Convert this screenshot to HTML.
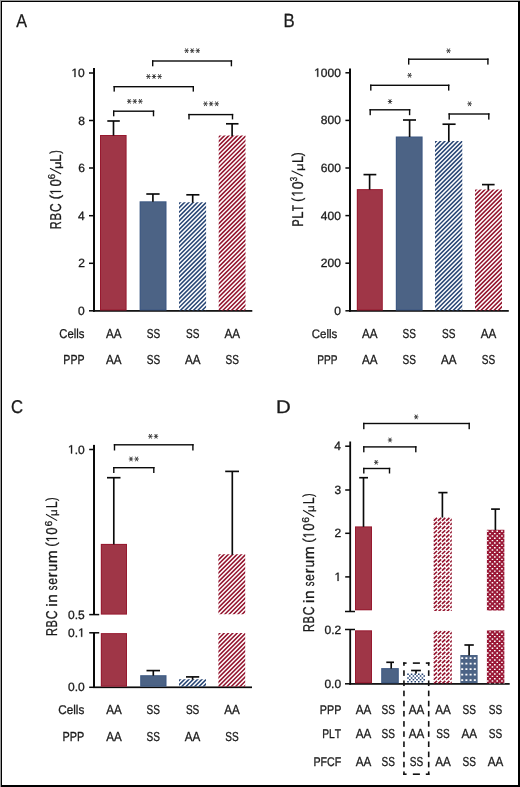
<!DOCTYPE html><html><head><meta charset="utf-8"><style>html,body{margin:0;padding:0;background:#fff;overflow:hidden}svg{display:block}text{font-kerning:none;text-rendering:geometricPrecision}.r{stroke:#1a1a1a;stroke-width:0.3px}.h{stroke:#1a1a1a;stroke-width:0.3px}</style></head><body>
<svg style="will-change:transform" width="520" height="787" viewBox="0 0 520 787" font-family="&quot;Liberation Sans&quot;, sans-serif">
<defs>
</defs>
<rect x="0" y="0" width="520" height="787" fill="#9a9a9a"/>
<rect x="1" y="1" width="519" height="786" fill="#000"/>
<rect x="2" y="2" width="516" height="783" fill="#fff"/>
<text class="h" transform="translate(16.17,26.9) scale(0.8742,1)" font-size="18.46" fill="#1a1a1a">A</text>
<text class="h" transform="translate(283.43,26.8) scale(0.8716,1)" font-size="19.19" fill="#1a1a1a">B</text>
<text class="h" transform="translate(11.05,412.5) scale(0.9057,1)" font-size="18.48" fill="#1a1a1a">C</text>
<text class="h" transform="translate(276.02,412.5) scale(1.1244,1)" font-size="18.17" fill="#1a1a1a">D</text>
<rect x="93" y="68" width="2" height="243.7" fill="#0a0a0a"/>
<rect x="93" y="310.05" width="159.3" height="1.7" fill="#0a0a0a"/>
<rect x="89" y="72.25" width="5" height="1.5" fill="#0a0a0a"/>
<rect x="89" y="119.75" width="5" height="1.5" fill="#0a0a0a"/>
<rect x="89" y="167.25" width="5" height="1.5" fill="#0a0a0a"/>
<rect x="89" y="214.95" width="5" height="1.5" fill="#0a0a0a"/>
<rect x="89" y="262.55" width="5" height="1.5" fill="#0a0a0a"/>
<rect x="89" y="310.05" width="5" height="1.5" fill="#0a0a0a"/>
<path class="r" d="M515,0L696,0L696,1409L530,1409L197,1180L197,1010L515,1237Z" transform="translate(71.42,77) scale(0.00586,-0.00586)" fill="#1a1a1a" style="stroke-width:51.2px;stroke:#1a1a1a"/>
<text class="h" x="78.09" y="77" font-size="12" fill="#1a1a1a">0</text>
<text class="h" x="78.15" y="124.5" font-size="12" fill="#1a1a1a">8</text>
<text class="h" x="78.15" y="172" font-size="12" fill="#1a1a1a">6</text>
<text class="h" x="77.98" y="219.7" font-size="12" fill="#1a1a1a">4</text>
<text class="h" x="78.23" y="267.3" font-size="12" fill="#1a1a1a">2</text>
<text class="h" x="78.09" y="314.8" font-size="12" fill="#1a1a1a">0</text>
<rect x="100" y="135" width="26.6" height="175.5" fill="#97192f"/>
<rect x="101" y="136" width="24.6" height="173.5" fill="#9f3647"/>
<rect x="139.6" y="201.3" width="26.9" height="109.2" fill="#3b5782"/>
<rect x="140.6" y="202.3" width="24.9" height="107.2" fill="#4c6385"/>
<clipPath id="c1"><rect x="179" y="202.2" width="27.1" height="108.3"/></clipPath>
<g clip-path="url(#c1)"><path d="M62.44,311.5L172.74,201.2M66.77,311.5L177.07,201.2M71.1,311.5L181.4,201.2M75.43,311.5L185.73,201.2M79.76,311.5L190.06,201.2M84.09,311.5L194.39,201.2M88.42,311.5L198.72,201.2M92.75,311.5L203.05,201.2M97.08,311.5L207.38,201.2M101.41,311.5L211.71,201.2M105.74,311.5L216.04,201.2M110.07,311.5L220.37,201.2M114.4,311.5L224.7,201.2M118.73,311.5L229.03,201.2M123.06,311.5L233.36,201.2M127.39,311.5L237.69,201.2M131.72,311.5L242.02,201.2M136.05,311.5L246.35,201.2M140.38,311.5L250.68,201.2M144.71,311.5L255.01,201.2M149.04,311.5L259.34,201.2M153.37,311.5L263.67,201.2M157.7,311.5L268,201.2M162.03,311.5L272.33,201.2M166.36,311.5L276.66,201.2M170.69,311.5L280.99,201.2M175.02,311.5L285.32,201.2M179.35,311.5L289.65,201.2M183.68,311.5L293.98,201.2M188.01,311.5L298.31,201.2M192.34,311.5L302.64,201.2M196.67,311.5L306.97,201.2M201,311.5L311.3,201.2M205.33,311.5L315.63,201.2M209.66,311.5L319.96,201.2" stroke="#284675" stroke-width="1.55" fill="none"/></g>
<clipPath id="c2"><rect x="218.7" y="135.6" width="26.8" height="174.9"/></clipPath>
<g clip-path="url(#c2)"><path d="M35.54,311.5L212.44,134.6M39.87,311.5L216.77,134.6M44.2,311.5L221.1,134.6M48.53,311.5L225.43,134.6M52.86,311.5L229.76,134.6M57.19,311.5L234.09,134.6M61.52,311.5L238.42,134.6M65.85,311.5L242.75,134.6M70.18,311.5L247.08,134.6M74.51,311.5L251.41,134.6M78.84,311.5L255.74,134.6M83.17,311.5L260.07,134.6M87.5,311.5L264.4,134.6M91.83,311.5L268.73,134.6M96.16,311.5L273.06,134.6M100.49,311.5L277.39,134.6M104.82,311.5L281.72,134.6M109.15,311.5L286.05,134.6M113.48,311.5L290.38,134.6M117.81,311.5L294.71,134.6M122.14,311.5L299.04,134.6M126.47,311.5L303.37,134.6M130.8,311.5L307.7,134.6M135.13,311.5L312.03,134.6M139.46,311.5L316.36,134.6M143.79,311.5L320.69,134.6M148.12,311.5L325.02,134.6M152.45,311.5L329.35,134.6M156.78,311.5L333.68,134.6M161.11,311.5L338.01,134.6M165.44,311.5L342.34,134.6M169.77,311.5L346.67,134.6M174.1,311.5L351,134.6M178.43,311.5L355.33,134.6M182.76,311.5L359.66,134.6M187.09,311.5L363.99,134.6M191.42,311.5L368.32,134.6M195.75,311.5L372.65,134.6M200.08,311.5L376.98,134.6M204.41,311.5L381.31,134.6M208.74,311.5L385.64,134.6M213.07,311.5L389.97,134.6M217.4,311.5L394.3,134.6M221.73,311.5L398.63,134.6M226.06,311.5L402.96,134.6M230.39,311.5L407.29,134.6M234.72,311.5L411.62,134.6M239.05,311.5L415.95,134.6M243.38,311.5L420.28,134.6M247.71,311.5L424.61,134.6M252.04,311.5L428.94,134.6" stroke="#93132d" stroke-width="1.55" fill="none"/></g>
<rect x="112.67" y="121" width="1.65" height="14.5" fill="#0a0a0a"/>
<rect x="107.3" y="120.17" width="12.5" height="1.65" fill="#0a0a0a"/>
<rect x="152.08" y="194" width="1.65" height="7.8" fill="#0a0a0a"/>
<rect x="146.3" y="193.18" width="13.3" height="1.65" fill="#0a0a0a"/>
<rect x="191.88" y="194.8" width="1.65" height="7.9" fill="#0a0a0a"/>
<rect x="186.3" y="193.98" width="13.1" height="1.65" fill="#0a0a0a"/>
<rect x="231.28" y="123.8" width="1.65" height="12.3" fill="#0a0a0a"/>
<rect x="226" y="122.97" width="12.5" height="1.65" fill="#0a0a0a"/>
<rect x="113" y="110.5" width="41.2" height="1.4" fill="#0a0a0a"/>
<rect x="113" y="110.5" width="1.4" height="5.8" fill="#0a0a0a"/>
<rect x="152.8" y="110.5" width="1.4" height="5.8" fill="#0a0a0a"/>
<rect x="188.3" y="113.9" width="44.9" height="1.4" fill="#0a0a0a"/>
<rect x="188.3" y="113.9" width="1.4" height="5.5" fill="#0a0a0a"/>
<rect x="231.8" y="113.9" width="1.4" height="5.5" fill="#0a0a0a"/>
<rect x="113.5" y="86" width="80.5" height="1.4" fill="#0a0a0a"/>
<rect x="113.5" y="86" width="1.4" height="5.6" fill="#0a0a0a"/>
<rect x="192.6" y="86" width="1.4" height="5.6" fill="#0a0a0a"/>
<rect x="152" y="60.3" width="80.1" height="1.4" fill="#0a0a0a"/>
<rect x="152" y="60.3" width="1.4" height="6" fill="#0a0a0a"/>
<rect x="230.7" y="60.3" width="1.4" height="6" fill="#0a0a0a"/>
<path d="M127.00,101.30L131.40,101.30M127.98,99.00L130.42,103.60M130.42,99.00L127.98,103.60" stroke="#333" stroke-width="0.9" fill="none"/>
<path d="M132.60,101.30L137.00,101.30M133.58,99.00L136.02,103.60M136.02,99.00L133.58,103.60" stroke="#333" stroke-width="0.9" fill="none"/>
<path d="M138.20,101.30L142.60,101.30M139.18,99.00L141.62,103.60M141.62,99.00L139.18,103.60" stroke="#333" stroke-width="0.9" fill="none"/>
<path d="M203.30,103.80L207.70,103.80M204.28,101.50L206.72,106.10M206.72,101.50L204.28,106.10" stroke="#333" stroke-width="0.9" fill="none"/>
<path d="M208.90,103.80L213.30,103.80M209.88,101.50L212.32,106.10M212.32,101.50L209.88,106.10" stroke="#333" stroke-width="0.9" fill="none"/>
<path d="M214.50,103.80L218.90,103.80M215.48,101.50L217.92,106.10M217.92,101.50L215.48,106.10" stroke="#333" stroke-width="0.9" fill="none"/>
<path d="M146.20,76.50L150.60,76.50M147.18,74.20L149.62,78.80M149.62,74.20L147.18,78.80" stroke="#333" stroke-width="0.9" fill="none"/>
<path d="M151.80,76.50L156.20,76.50M152.78,74.20L155.22,78.80M155.22,74.20L152.78,78.80" stroke="#333" stroke-width="0.9" fill="none"/>
<path d="M157.40,76.50L161.80,76.50M158.38,74.20L160.82,78.80M160.82,74.20L158.38,78.80" stroke="#333" stroke-width="0.9" fill="none"/>
<path d="M184.40,50.70L188.80,50.70M185.38,48.40L187.82,53.00M187.82,48.40L185.38,53.00" stroke="#333" stroke-width="0.9" fill="none"/>
<path d="M190.00,50.70L194.40,50.70M190.98,48.40L193.42,53.00M193.42,48.40L190.98,53.00" stroke="#333" stroke-width="0.9" fill="none"/>
<path d="M195.60,50.70L200.00,50.70M196.58,48.40L199.02,53.00M199.02,48.40L196.58,53.00" stroke="#333" stroke-width="0.9" fill="none"/>
<text class="r" transform="translate(61,228.3) rotate(-90) scale(0.6973,1) translate(-1.29,0)" font-size="15.7" fill="#1a1a1a">R</text>
<text class="r" transform="translate(61,219.5) rotate(-90) scale(0.7300,1) translate(-1.29,0)" font-size="15.7" fill="#1a1a1a">B</text>
<text class="r" transform="translate(61,211.3) rotate(-90) scale(0.7644,1) translate(-0.8,0)" font-size="15.7" fill="#1a1a1a">C</text>
<text class="r" transform="translate(59.9,198.7) rotate(-90) scale(0.9953,1) translate(-0.89,0)" font-size="14.4" fill="#1a1a1a">(</text>
<path d="M515,0L696,0L696,1409L530,1409L197,1180L197,1010L515,1237Z" transform="translate(61,194.88) rotate(-90) scale(0.00575,-0.00767)" fill="#1a1a1a" style="stroke-width:39.1px;stroke:#1a1a1a"/>
<text class="r" transform="translate(61,186) rotate(-90) scale(0.8394,1) translate(-0.61,0)" font-size="15.7" fill="#1a1a1a">0</text>
<text class="r" transform="translate(55.1,178.7) rotate(-90) scale(0.9536,1) translate(-0.51,0)" font-size="10" fill="#1a1a1a">6</text>
<path d="M61.1,174L50,168.3" stroke="#1a1a1a" stroke-width="1.05" fill="none"/>
<text class="r" transform="translate(61,168) rotate(-90) scale(1.2563,1) translate(-0.71,0)" font-size="10.6" fill="#1a1a1a">μ</text>
<text class="r" transform="translate(61,160.6) rotate(-90) scale(0.8234,1) translate(-1.29,0)" font-size="15.7" fill="#1a1a1a">L</text>
<text class="r" transform="translate(59.9,153.6) rotate(-90) scale(0.7334,1) translate(-0.08,0)" font-size="14.4" fill="#1a1a1a">)</text>
<text class="h" transform="translate(105.93,337.6) scale(0.8900,1)" font-size="13.08" fill="#1a1a1a">AA</text>
<text class="h" transform="translate(146.68,337.6) scale(0.7700,1)" font-size="13.08" fill="#1a1a1a">SS</text>
<text class="h" transform="translate(185.98,337.6) scale(0.7700,1)" font-size="13.08" fill="#1a1a1a">SS</text>
<text class="h" transform="translate(224.53,337.6) scale(0.8900,1)" font-size="13.08" fill="#1a1a1a">AA</text>
<text class="h" transform="translate(105.93,364.4) scale(0.8900,1)" font-size="13.08" fill="#1a1a1a">AA</text>
<text class="h" transform="translate(146.68,364.4) scale(0.7700,1)" font-size="13.08" fill="#1a1a1a">SS</text>
<text class="h" transform="translate(184.93,364.4) scale(0.8900,1)" font-size="13.08" fill="#1a1a1a">AA</text>
<text class="h" transform="translate(225.58,364.4) scale(0.7700,1)" font-size="13.08" fill="#1a1a1a">SS</text>
<text class="h" transform="translate(59.22,337.6) scale(0.8887,1)" font-size="12.75" fill="#1a1a1a">Cells</text>
<text class="h" transform="translate(63.33,364.4) scale(0.8111,1)" font-size="13.08" fill="#1a1a1a">PPP</text>
<rect x="349" y="68.5" width="2" height="243.2" fill="#0a0a0a"/>
<rect x="349" y="310.05" width="159.8" height="1.7" fill="#0a0a0a"/>
<rect x="345.4" y="72.05" width="4.6" height="1.5" fill="#0a0a0a"/>
<rect x="345.4" y="119.65" width="4.6" height="1.5" fill="#0a0a0a"/>
<rect x="345.4" y="167.25" width="4.6" height="1.5" fill="#0a0a0a"/>
<rect x="345.4" y="214.85" width="4.6" height="1.5" fill="#0a0a0a"/>
<rect x="345.4" y="262.45" width="4.6" height="1.5" fill="#0a0a0a"/>
<rect x="345.4" y="310.05" width="4.6" height="1.5" fill="#0a0a0a"/>
<path class="r" d="M515,0L696,0L696,1409L530,1409L197,1180L197,1010L515,1237Z" transform="translate(314.17,76.8) scale(0.00586,-0.00586)" fill="#1a1a1a" style="stroke-width:51.2px;stroke:#1a1a1a"/>
<text class="h" x="320.85" y="76.8" font-size="12" fill="#1a1a1a">0</text>
<text class="h" x="327.52" y="76.8" font-size="12" fill="#1a1a1a">0</text>
<text class="h" x="334.19" y="76.8" font-size="12" fill="#1a1a1a">0</text>
<text class="h" x="320.85" y="124.4" font-size="12" fill="#1a1a1a">8</text>
<text class="h" x="327.52" y="124.4" font-size="12" fill="#1a1a1a">0</text>
<text class="h" x="334.19" y="124.4" font-size="12" fill="#1a1a1a">0</text>
<text class="h" x="320.85" y="172" font-size="12" fill="#1a1a1a">6</text>
<text class="h" x="327.52" y="172" font-size="12" fill="#1a1a1a">0</text>
<text class="h" x="334.19" y="172" font-size="12" fill="#1a1a1a">0</text>
<text class="h" x="320.85" y="219.6" font-size="12" fill="#1a1a1a">4</text>
<text class="h" x="327.52" y="219.6" font-size="12" fill="#1a1a1a">0</text>
<text class="h" x="334.19" y="219.6" font-size="12" fill="#1a1a1a">0</text>
<text class="h" x="320.85" y="267.2" font-size="12" fill="#1a1a1a">2</text>
<text class="h" x="327.52" y="267.2" font-size="12" fill="#1a1a1a">0</text>
<text class="h" x="334.19" y="267.2" font-size="12" fill="#1a1a1a">0</text>
<text class="h" x="334.19" y="314.8" font-size="12" fill="#1a1a1a">0</text>
<rect x="356.8" y="189.1" width="26" height="121.4" fill="#97192f"/>
<rect x="357.8" y="190.1" width="24" height="119.4" fill="#9f3647"/>
<rect x="395.8" y="136.5" width="26.8" height="174" fill="#3b5782"/>
<rect x="396.8" y="137.5" width="24.8" height="172" fill="#4c6385"/>
<clipPath id="c3"><rect x="435" y="141" width="27.3" height="169.5"/></clipPath>
<g clip-path="url(#c3)"><path d="M257.24,311.5L428.74,140M261.57,311.5L433.07,140M265.9,311.5L437.4,140M270.23,311.5L441.73,140M274.56,311.5L446.06,140M278.89,311.5L450.39,140M283.22,311.5L454.72,140M287.55,311.5L459.05,140M291.88,311.5L463.38,140M296.21,311.5L467.71,140M300.54,311.5L472.04,140M304.87,311.5L476.37,140M309.2,311.5L480.7,140M313.53,311.5L485.03,140M317.86,311.5L489.36,140M322.19,311.5L493.69,140M326.52,311.5L498.02,140M330.85,311.5L502.35,140M335.18,311.5L506.68,140M339.51,311.5L511.01,140M343.84,311.5L515.34,140M348.17,311.5L519.67,140M352.5,311.5L524,140M356.83,311.5L528.33,140M361.16,311.5L532.66,140M365.49,311.5L536.99,140M369.82,311.5L541.32,140M374.15,311.5L545.65,140M378.48,311.5L549.98,140M382.81,311.5L554.31,140M387.14,311.5L558.64,140M391.47,311.5L562.97,140M395.8,311.5L567.3,140M400.13,311.5L571.63,140M404.46,311.5L575.96,140M408.79,311.5L580.29,140M413.12,311.5L584.62,140M417.45,311.5L588.95,140M421.78,311.5L593.28,140M426.11,311.5L597.61,140M430.44,311.5L601.94,140M434.77,311.5L606.27,140M439.1,311.5L610.6,140M443.43,311.5L614.93,140M447.76,311.5L619.26,140M452.09,311.5L623.59,140M456.42,311.5L627.92,140M460.75,311.5L632.25,140M465.08,311.5L636.58,140M469.41,311.5L640.91,140" stroke="#284675" stroke-width="1.55" fill="none"/></g>
<clipPath id="c4"><rect x="475" y="189.4" width="27" height="121.1"/></clipPath>
<g clip-path="url(#c4)"><path d="M345.64,311.5L468.74,188.4M349.97,311.5L473.07,188.4M354.3,311.5L477.4,188.4M358.63,311.5L481.73,188.4M362.96,311.5L486.06,188.4M367.29,311.5L490.39,188.4M371.62,311.5L494.72,188.4M375.95,311.5L499.05,188.4M380.28,311.5L503.38,188.4M384.61,311.5L507.71,188.4M388.94,311.5L512.04,188.4M393.27,311.5L516.37,188.4M397.6,311.5L520.7,188.4M401.93,311.5L525.03,188.4M406.26,311.5L529.36,188.4M410.59,311.5L533.69,188.4M414.92,311.5L538.02,188.4M419.25,311.5L542.35,188.4M423.58,311.5L546.68,188.4M427.91,311.5L551.01,188.4M432.24,311.5L555.34,188.4M436.57,311.5L559.67,188.4M440.9,311.5L564,188.4M445.23,311.5L568.33,188.4M449.56,311.5L572.66,188.4M453.89,311.5L576.99,188.4M458.22,311.5L581.32,188.4M462.55,311.5L585.65,188.4M466.88,311.5L589.98,188.4M471.21,311.5L594.31,188.4M475.54,311.5L598.64,188.4M479.87,311.5L602.97,188.4M484.2,311.5L607.3,188.4M488.53,311.5L611.63,188.4M492.86,311.5L615.96,188.4M497.19,311.5L620.29,188.4M501.52,311.5L624.62,188.4M505.85,311.5L628.95,188.4" stroke="#93132d" stroke-width="1.55" fill="none"/></g>
<rect x="368.78" y="174.6" width="1.65" height="15" fill="#0a0a0a"/>
<rect x="363.5" y="173.78" width="12.8" height="1.65" fill="#0a0a0a"/>
<rect x="408.78" y="120" width="1.65" height="17" fill="#0a0a0a"/>
<rect x="403" y="119.17" width="13" height="1.65" fill="#0a0a0a"/>
<rect x="447.98" y="124.2" width="1.65" height="17.3" fill="#0a0a0a"/>
<rect x="442.5" y="123.38" width="13.1" height="1.65" fill="#0a0a0a"/>
<rect x="487.48" y="184.6" width="1.65" height="5.3" fill="#0a0a0a"/>
<rect x="482" y="183.78" width="12.6" height="1.65" fill="#0a0a0a"/>
<rect x="369.5" y="109.1" width="40.8" height="1.4" fill="#0a0a0a"/>
<rect x="369.5" y="109.1" width="1.4" height="6.1" fill="#0a0a0a"/>
<rect x="408.9" y="109.1" width="1.4" height="6.1" fill="#0a0a0a"/>
<rect x="448.5" y="113.3" width="41" height="1.4" fill="#0a0a0a"/>
<rect x="448.5" y="113.3" width="1.4" height="6.3" fill="#0a0a0a"/>
<rect x="488.1" y="113.3" width="1.4" height="6.3" fill="#0a0a0a"/>
<rect x="370.1" y="84.6" width="79.3" height="1.4" fill="#0a0a0a"/>
<rect x="370.1" y="84.6" width="1.4" height="6" fill="#0a0a0a"/>
<rect x="448" y="84.6" width="1.4" height="6" fill="#0a0a0a"/>
<rect x="408" y="58.5" width="80.6" height="1.4" fill="#0a0a0a"/>
<rect x="408" y="58.5" width="1.4" height="6.1" fill="#0a0a0a"/>
<rect x="487.2" y="58.5" width="1.4" height="6.1" fill="#0a0a0a"/>
<path d="M387.80,101.50L392.20,101.50M388.78,99.20L391.22,103.80M391.22,99.20L388.78,103.80" stroke="#333" stroke-width="0.9" fill="none"/>
<path d="M467.40,103.80L471.80,103.80M468.38,101.50L470.82,106.10M470.82,101.50L468.38,106.10" stroke="#333" stroke-width="0.9" fill="none"/>
<path d="M407.40,75.30L411.80,75.30M408.38,73.00L410.82,77.60M410.82,73.00L408.38,77.60" stroke="#333" stroke-width="0.9" fill="none"/>
<path d="M446.30,50.80L450.70,50.80M447.28,48.50L449.72,53.10M449.72,48.50L447.28,53.10" stroke="#333" stroke-width="0.9" fill="none"/>
<text class="r" transform="translate(302.6,225.7) rotate(-90) scale(0.6909,1) translate(-1.27,0)" font-size="15.5" fill="#1a1a1a">P</text>
<text class="r" transform="translate(302.6,217.8) rotate(-90) scale(0.8340,1) translate(-1.27,0)" font-size="15.5" fill="#1a1a1a">L</text>
<text class="r" transform="translate(302.6,211.1) rotate(-90) scale(0.6504,1) translate(-0.35,0)" font-size="15.5" fill="#1a1a1a">T</text>
<text class="r" transform="translate(301.5,201) rotate(-90) scale(0.8381,1) translate(-0.89,0)" font-size="14.4" fill="#1a1a1a">(</text>
<path d="M515,0L696,0L696,1409L530,1409L197,1180L197,1010L515,1237Z" transform="translate(302.6,196.54) rotate(-90) scale(0.00568,-0.00757)" fill="#1a1a1a" style="stroke-width:39.6px;stroke:#1a1a1a"/>
<text class="r" transform="translate(302.6,188.8) rotate(-90) scale(0.9178,1) translate(-0.61,0)" font-size="15.5" fill="#1a1a1a">0</text>
<text class="r" transform="translate(297.1,181) rotate(-90) scale(0.7804,1) translate(-0.38,0)" font-size="10" fill="#1a1a1a">3</text>
<path d="M302.7,175.9L291.6,170.7" stroke="#1a1a1a" stroke-width="1.05" fill="none"/>
<text class="r" transform="translate(302.6,170.1) rotate(-90) scale(1.2346,1) translate(-0.71,0)" font-size="10.6" fill="#1a1a1a">μ</text>
<text class="r" transform="translate(302.6,161.9) rotate(-90) scale(0.8048,1) translate(-1.27,0)" font-size="15.5" fill="#1a1a1a">L</text>
<text class="r" transform="translate(301.5,156.1) rotate(-90) scale(0.8120,1) translate(-0.08,0)" font-size="14.4" fill="#1a1a1a">)</text>
<text class="h" transform="translate(362.03,337.8) scale(0.8900,1)" font-size="13.08" fill="#1a1a1a">AA</text>
<text class="h" transform="translate(402.48,337.8) scale(0.7700,1)" font-size="13.08" fill="#1a1a1a">SS</text>
<text class="h" transform="translate(441.98,337.8) scale(0.7700,1)" font-size="13.08" fill="#1a1a1a">SS</text>
<text class="h" transform="translate(480.73,337.8) scale(0.8900,1)" font-size="13.08" fill="#1a1a1a">AA</text>
<text class="h" transform="translate(362.03,364.3) scale(0.8900,1)" font-size="13.08" fill="#1a1a1a">AA</text>
<text class="h" transform="translate(402.48,364.3) scale(0.7700,1)" font-size="13.08" fill="#1a1a1a">SS</text>
<text class="h" transform="translate(440.93,364.3) scale(0.8900,1)" font-size="13.08" fill="#1a1a1a">AA</text>
<text class="h" transform="translate(481.78,364.3) scale(0.7700,1)" font-size="13.08" fill="#1a1a1a">SS</text>
<text class="h" transform="translate(311.72,337.8) scale(0.9349,1)" font-size="12.32" fill="#1a1a1a">Cells</text>
<text class="h" transform="translate(317.17,364.3) scale(0.8009,1)" font-size="12.65" fill="#1a1a1a">PPP</text>
<rect x="93" y="444.9" width="2" height="169.7" fill="#0a0a0a"/>
<rect x="93" y="632.8" width="2" height="55.2" fill="#0a0a0a"/>
<rect x="93" y="686.45" width="159" height="1.7" fill="#0a0a0a"/>
<rect x="89.2" y="448.75" width="3.8" height="1.5" fill="#0a0a0a"/>
<rect x="89.2" y="613.85" width="10" height="1.5" fill="#0a0a0a"/>
<rect x="89.2" y="632.05" width="10" height="1.5" fill="#0a0a0a"/>
<rect x="89.2" y="686.55" width="3.8" height="1.5" fill="#0a0a0a"/>
<path class="r" d="M515,0L696,0L696,1409L530,1409L197,1180L197,1010L515,1237Z" transform="translate(67.99,453.5) scale(0.00586,-0.00586)" fill="#1a1a1a" style="stroke-width:51.2px;stroke:#1a1a1a"/>
<text class="h" x="74.66" y="453.5" font-size="12" fill="#1a1a1a">.</text>
<text class="h" x="77.99" y="453.5" font-size="12" fill="#1a1a1a">0</text>
<text class="h" x="68.02" y="618.6" font-size="12" fill="#1a1a1a">0</text>
<text class="h" x="74.7" y="618.6" font-size="12" fill="#1a1a1a">.</text>
<text class="h" x="78.03" y="618.6" font-size="12" fill="#1a1a1a">5</text>
<text class="h" x="68.1" y="636.8" font-size="12" fill="#1a1a1a">0</text>
<text class="h" x="74.78" y="636.8" font-size="12" fill="#1a1a1a">.</text>
<path class="r" d="M515,0L696,0L696,1409L530,1409L197,1180L197,1010L515,1237Z" transform="translate(78.11,636.8) scale(0.00586,-0.00586)" fill="#1a1a1a" style="stroke-width:51.2px;stroke:#1a1a1a"/>
<text class="h" x="67.99" y="691.3" font-size="12" fill="#1a1a1a">0</text>
<text class="h" x="74.66" y="691.3" font-size="12" fill="#1a1a1a">.</text>
<text class="h" x="77.99" y="691.3" font-size="12" fill="#1a1a1a">0</text>
<rect x="100.8" y="543.9" width="26.2" height="70.7" fill="#97192f"/>
<rect x="101.8" y="544.9" width="24.2" height="68.7" fill="#9f3647"/>
<rect x="100.8" y="633.1" width="26.2" height="53.6" fill="#97192f"/>
<rect x="101.8" y="634.1" width="24.2" height="51.6" fill="#9f3647"/>
<rect x="140.2" y="675.2" width="26.3" height="11.5" fill="#3b5782"/>
<rect x="141.2" y="676.2" width="24.3" height="9.5" fill="#4c6385"/>
<clipPath id="c5"><rect x="179" y="679.2" width="27" height="7.5"/></clipPath>
<g clip-path="url(#c5)"><path d="M163.24,687.7L172.74,678.2M167.57,687.7L177.07,678.2M171.9,687.7L181.4,678.2M176.23,687.7L185.73,678.2M180.56,687.7L190.06,678.2M184.89,687.7L194.39,678.2M189.22,687.7L198.72,678.2M193.55,687.7L203.05,678.2M197.88,687.7L207.38,678.2M202.21,687.7L211.71,678.2M206.54,687.7L216.04,678.2M210.87,687.7L220.37,678.2" stroke="#284675" stroke-width="1.55" fill="none"/></g>
<clipPath id="c6"><rect x="218.4" y="554.3" width="26.8" height="59.9"/></clipPath>
<g clip-path="url(#c6)"><path d="M150.24,615.2L212.14,553.3M154.57,615.2L216.47,553.3M158.9,615.2L220.8,553.3M163.23,615.2L225.13,553.3M167.56,615.2L229.46,553.3M171.89,615.2L233.79,553.3M176.22,615.2L238.12,553.3M180.55,615.2L242.45,553.3M184.88,615.2L246.78,553.3M189.21,615.2L251.11,553.3M193.54,615.2L255.44,553.3M197.87,615.2L259.77,553.3M202.2,615.2L264.1,553.3M206.53,615.2L268.43,553.3M210.86,615.2L272.76,553.3M215.19,615.2L277.09,553.3M219.52,615.2L281.42,553.3M223.85,615.2L285.75,553.3M228.18,615.2L290.08,553.3M232.51,615.2L294.41,553.3M236.84,615.2L298.74,553.3M241.17,615.2L303.07,553.3M245.5,615.2L307.4,553.3M249.83,615.2L311.73,553.3" stroke="#93132d" stroke-width="1.55" fill="none"/></g>
<clipPath id="c7"><rect x="218.4" y="633.1" width="26.8" height="53.6"/></clipPath>
<g clip-path="url(#c7)"><path d="M156.54,687.7L212.14,632.1M160.87,687.7L216.47,632.1M165.2,687.7L220.8,632.1M169.53,687.7L225.13,632.1M173.86,687.7L229.46,632.1M178.19,687.7L233.79,632.1M182.52,687.7L238.12,632.1M186.85,687.7L242.45,632.1M191.18,687.7L246.78,632.1M195.51,687.7L251.11,632.1M199.84,687.7L255.44,632.1M204.17,687.7L259.77,632.1M208.5,687.7L264.1,632.1M212.83,687.7L268.43,632.1M217.16,687.7L272.76,632.1M221.49,687.7L277.09,632.1M225.82,687.7L281.42,632.1M230.15,687.7L285.75,632.1M234.48,687.7L290.08,632.1M238.81,687.7L294.41,632.1M243.14,687.7L298.74,632.1M247.47,687.7L303.07,632.1M251.8,687.7L307.4,632.1" stroke="#93132d" stroke-width="1.55" fill="none"/></g>
<rect x="112.97" y="477.7" width="1.65" height="66.7" fill="#0a0a0a"/>
<rect x="107" y="476.88" width="13.5" height="1.65" fill="#0a0a0a"/>
<rect x="152.48" y="670.6" width="1.65" height="5.1" fill="#0a0a0a"/>
<rect x="146.5" y="669.77" width="13.5" height="1.65" fill="#0a0a0a"/>
<rect x="191.78" y="676.9" width="1.65" height="2.8" fill="#0a0a0a"/>
<rect x="186" y="676.07" width="13.2" height="1.65" fill="#0a0a0a"/>
<rect x="231.48" y="471.4" width="1.65" height="83.4" fill="#0a0a0a"/>
<rect x="225.2" y="470.57" width="13.8" height="1.65" fill="#0a0a0a"/>
<rect x="113.8" y="444.1" width="79.8" height="1.4" fill="#0a0a0a"/>
<rect x="113.8" y="444.1" width="1.4" height="6.4" fill="#0a0a0a"/>
<rect x="192.2" y="444.1" width="1.4" height="6.4" fill="#0a0a0a"/>
<rect x="113.1" y="467" width="41.4" height="1.4" fill="#0a0a0a"/>
<rect x="113.1" y="467" width="1.4" height="6" fill="#0a0a0a"/>
<rect x="153.1" y="467" width="1.4" height="6" fill="#0a0a0a"/>
<path d="M148.20,436.30L152.60,436.30M149.18,434.00L151.62,438.60M151.62,434.00L149.18,438.60" stroke="#333" stroke-width="0.9" fill="none"/>
<path d="M153.80,436.30L158.20,436.30M154.78,434.00L157.22,438.60M157.22,434.00L154.78,438.60" stroke="#333" stroke-width="0.9" fill="none"/>
<path d="M128.80,459.00L133.20,459.00M129.78,456.70L132.22,461.30M132.22,456.70L129.78,461.30" stroke="#333" stroke-width="0.9" fill="none"/>
<path d="M134.40,459.00L138.80,459.00M135.38,456.70L137.82,461.30M137.82,456.70L135.38,461.30" stroke="#333" stroke-width="0.9" fill="none"/>
<text class="r" transform="translate(57,635) rotate(-90) scale(0.7080,1) translate(-1.29,0)" font-size="15.7" fill="#1a1a1a">R</text>
<text class="r" transform="translate(57,626.6) rotate(-90) scale(0.7061,1) translate(-1.29,0)" font-size="15.7" fill="#1a1a1a">B</text>
<text class="r" transform="translate(57,618.6) rotate(-90) scale(0.7744,1) translate(-0.8,0)" font-size="15.7" fill="#1a1a1a">C</text>
<text class="r" transform="translate(57,605.9) rotate(-90) scale(1.1378,1) translate(-1,0)" font-size="15" fill="#1a1a1a">i</text>
<text class="r" transform="translate(57,601.8) rotate(-90) scale(1.0201,1) translate(-1,0)" font-size="15" fill="#1a1a1a">n</text>
<text class="r" transform="translate(57,589.9) rotate(-90) scale(0.6269,1) translate(-0.42,0)" font-size="15" fill="#1a1a1a">s</text>
<text class="r" transform="translate(57,584.3) rotate(-90) scale(0.8240,1) translate(-0.64,0)" font-size="15" fill="#1a1a1a">e</text>
<text class="r" transform="translate(57,576.3) rotate(-90) scale(0.9600,1) translate(-1,0)" font-size="15" fill="#1a1a1a">r</text>
<text class="r" transform="translate(57,570.5) rotate(-90) scale(0.9102,1) translate(-0.97,0)" font-size="15" fill="#1a1a1a">u</text>
<text class="r" transform="translate(57,562.2) rotate(-90) scale(1.0371,1) translate(-1,0)" font-size="15" fill="#1a1a1a">m</text>
<text class="r" transform="translate(55.9,545.9) rotate(-90) scale(0.9429,1) translate(-0.89,0)" font-size="14.4" fill="#1a1a1a">(</text>
<path d="M515,0L696,0L696,1409L530,1409L197,1180L197,1010L515,1237Z" transform="translate(57,542.08) rotate(-90) scale(0.00575,-0.00767)" fill="#1a1a1a" style="stroke-width:39.1px;stroke:#1a1a1a"/>
<text class="r" transform="translate(57,534.2) rotate(-90) scale(0.8394,1) translate(-0.61,0)" font-size="15.7" fill="#1a1a1a">0</text>
<text class="r" transform="translate(52.2,526) rotate(-90) scale(1.0403,1) translate(-0.51,0)" font-size="10" fill="#1a1a1a">6</text>
<path d="M57.1,520.6L46,514.2" stroke="#1a1a1a" stroke-width="1.05" fill="none"/>
<text class="r" transform="translate(57,515.2) rotate(-90) scale(1.1047,1) translate(-0.71,0)" font-size="10.6" fill="#1a1a1a">μ</text>
<text class="r" transform="translate(57,507.2) rotate(-90) scale(0.7801,1) translate(-1.29,0)" font-size="15.7" fill="#1a1a1a">L</text>
<text class="r" transform="translate(55.9,500.9) rotate(-90) scale(0.7596,1) translate(-0.08,0)" font-size="14.4" fill="#1a1a1a">)</text>
<text class="h" transform="translate(106.23,714.2) scale(0.8900,1)" font-size="13.08" fill="#1a1a1a">AA</text>
<text class="h" transform="translate(146.58,714.2) scale(0.7700,1)" font-size="13.08" fill="#1a1a1a">SS</text>
<text class="h" transform="translate(185.88,714.2) scale(0.7700,1)" font-size="13.08" fill="#1a1a1a">SS</text>
<text class="h" transform="translate(224.23,714.2) scale(0.8900,1)" font-size="13.08" fill="#1a1a1a">AA</text>
<text class="h" transform="translate(106.23,740.8) scale(0.8900,1)" font-size="13.08" fill="#1a1a1a">AA</text>
<text class="h" transform="translate(146.58,740.8) scale(0.7700,1)" font-size="13.08" fill="#1a1a1a">SS</text>
<text class="h" transform="translate(184.83,740.8) scale(0.8900,1)" font-size="13.08" fill="#1a1a1a">AA</text>
<text class="h" transform="translate(225.28,740.8) scale(0.7700,1)" font-size="13.08" fill="#1a1a1a">SS</text>
<text class="h" transform="translate(58.21,714.2) scale(0.9285,1)" font-size="12.61" fill="#1a1a1a">Cells</text>
<text class="h" transform="translate(62.61,740.8) scale(0.8315,1)" font-size="13.08" fill="#1a1a1a">PPP</text>
<rect x="349.3" y="441.5" width="1.8" height="170" fill="#0a0a0a"/>
<rect x="349.3" y="629.5" width="1.8" height="55.1" fill="#0a0a0a"/>
<rect x="349.3" y="683.05" width="160.4" height="1.7" fill="#0a0a0a"/>
<rect x="345.2" y="445.45" width="4.8" height="1.5" fill="#0a0a0a"/>
<rect x="345.2" y="489.25" width="4.8" height="1.5" fill="#0a0a0a"/>
<rect x="345.2" y="532.55" width="4.8" height="1.5" fill="#0a0a0a"/>
<rect x="345.2" y="576.15" width="4.8" height="1.5" fill="#0a0a0a"/>
<rect x="345" y="610.75" width="10" height="1.5" fill="#0a0a0a"/>
<rect x="345" y="628.75" width="10" height="1.5" fill="#0a0a0a"/>
<rect x="345" y="683.05" width="5" height="1.5" fill="#0a0a0a"/>
<text class="h" x="334.28" y="450.2" font-size="12" fill="#1a1a1a">4</text>
<text class="h" x="334.45" y="494" font-size="12" fill="#1a1a1a">3</text>
<text class="h" x="334.53" y="537.3" font-size="12" fill="#1a1a1a">2</text>
<path class="r" d="M515,0L696,0L696,1409L530,1409L197,1180L197,1010L515,1237Z" transform="translate(334.51,580.9) scale(0.00586,-0.00586)" fill="#1a1a1a" style="stroke-width:51.2px;stroke:#1a1a1a"/>
<text class="h" x="324.52" y="633.5" font-size="12" fill="#1a1a1a">0</text>
<text class="h" x="331.2" y="633.5" font-size="12" fill="#1a1a1a">.</text>
<text class="h" x="334.53" y="633.5" font-size="12" fill="#1a1a1a">2</text>
<text class="h" x="324.39" y="687.8" font-size="12" fill="#1a1a1a">0</text>
<text class="h" x="331.06" y="687.8" font-size="12" fill="#1a1a1a">.</text>
<text class="h" x="334.39" y="687.8" font-size="12" fill="#1a1a1a">0</text>
<rect x="355" y="526.4" width="17" height="83.9" fill="#97192f"/>
<rect x="356" y="527.4" width="15" height="81.9" fill="#9f3647"/>
<rect x="355" y="630.3" width="17" height="53" fill="#97192f"/>
<rect x="356" y="631.3" width="15" height="51" fill="#9f3647"/>
<rect x="381.2" y="668.1" width="17.6" height="15.2" fill="#3b5782"/>
<rect x="382.2" y="669.1" width="15.6" height="13.2" fill="#4c6385"/>
<clipPath id="c8"><rect x="407" y="673.1" width="18" height="10.2"/></clipPath>
<g clip-path="url(#c8)">
<path d="M403.6,673.4h1.6v1.5h-1.6zM407.2,673.4h1.6v1.5h-1.6zM410.8,673.4h1.6v1.5h-1.6zM414.4,673.4h1.6v1.5h-1.6zM418,673.4h1.6v1.5h-1.6zM421.6,673.4h1.6v1.5h-1.6zM425.2,673.4h1.6v1.5h-1.6zM405.4,675.3h1.6v1.5h-1.6zM409,675.3h1.6v1.5h-1.6zM412.6,675.3h1.6v1.5h-1.6zM416.2,675.3h1.6v1.5h-1.6zM419.8,675.3h1.6v1.5h-1.6zM423.4,675.3h1.6v1.5h-1.6zM427,675.3h1.6v1.5h-1.6zM403.6,677.2h1.6v1.5h-1.6zM407.2,677.2h1.6v1.5h-1.6zM410.8,677.2h1.6v1.5h-1.6zM414.4,677.2h1.6v1.5h-1.6zM418,677.2h1.6v1.5h-1.6zM421.6,677.2h1.6v1.5h-1.6zM425.2,677.2h1.6v1.5h-1.6zM405.4,679.1h1.6v1.5h-1.6zM409,679.1h1.6v1.5h-1.6zM412.6,679.1h1.6v1.5h-1.6zM416.2,679.1h1.6v1.5h-1.6zM419.8,679.1h1.6v1.5h-1.6zM423.4,679.1h1.6v1.5h-1.6zM427,679.1h1.6v1.5h-1.6zM403.6,681h1.6v1.5h-1.6zM407.2,681h1.6v1.5h-1.6zM410.8,681h1.6v1.5h-1.6zM414.4,681h1.6v1.5h-1.6zM418,681h1.6v1.5h-1.6zM421.6,681h1.6v1.5h-1.6zM425.2,681h1.6v1.5h-1.6zM405.4,682.9h1.6v1.5h-1.6zM409,682.9h1.6v1.5h-1.6zM412.6,682.9h1.6v1.5h-1.6zM416.2,682.9h1.6v1.5h-1.6zM419.8,682.9h1.6v1.5h-1.6zM423.4,682.9h1.6v1.5h-1.6zM427,682.9h1.6v1.5h-1.6zM403.6,684.8h1.6v1.5h-1.6zM407.2,684.8h1.6v1.5h-1.6zM410.8,684.8h1.6v1.5h-1.6zM414.4,684.8h1.6v1.5h-1.6zM418,684.8h1.6v1.5h-1.6zM421.6,684.8h1.6v1.5h-1.6zM425.2,684.8h1.6v1.5h-1.6zM405.4,686.7h1.6v1.5h-1.6zM409,686.7h1.6v1.5h-1.6zM412.6,686.7h1.6v1.5h-1.6zM416.2,686.7h1.6v1.5h-1.6zM419.8,686.7h1.6v1.5h-1.6zM423.4,686.7h1.6v1.5h-1.6zM427,686.7h1.6v1.5h-1.6z" fill="#284675"/>
</g>
<clipPath id="c9"><rect x="433.2" y="517.1" width="18.6" height="93.8"/></clipPath>
<g clip-path="url(#c9)"><path d="M429.55,516.65L432.85,513.65M429.55,520.8L432.85,517.8M429.55,524.95L432.85,521.95M429.55,529.1L432.85,526.1M429.55,533.25L432.85,530.25M429.55,537.4L432.85,534.4M429.55,541.55L432.85,538.55M429.55,545.7L432.85,542.7M429.55,549.85L432.85,546.85M429.55,554L432.85,551M429.55,558.15L432.85,555.15M429.55,562.3L432.85,559.3M429.55,566.45L432.85,563.45M429.55,570.6L432.85,567.6M429.55,574.75L432.85,571.75M429.55,578.9L432.85,575.9M429.55,583.05L432.85,580.05M429.55,587.2L432.85,584.2M429.55,591.35L432.85,588.35M429.55,595.5L432.85,592.5M429.55,599.65L432.85,596.65M429.55,603.8L432.85,600.8M429.55,607.95L432.85,604.95M429.55,612.1L432.85,609.1M429.55,616.25L432.85,613.25M433.7,516.65L437,513.65M433.7,520.8L437,517.8M433.7,524.95L437,521.95M433.7,529.1L437,526.1M433.7,533.25L437,530.25M433.7,537.4L437,534.4M433.7,541.55L437,538.55M433.7,545.7L437,542.7M433.7,549.85L437,546.85M433.7,554L437,551M433.7,558.15L437,555.15M433.7,562.3L437,559.3M433.7,566.45L437,563.45M433.7,570.6L437,567.6M433.7,574.75L437,571.75M433.7,578.9L437,575.9M433.7,583.05L437,580.05M433.7,587.2L437,584.2M433.7,591.35L437,588.35M433.7,595.5L437,592.5M433.7,599.65L437,596.65M433.7,603.8L437,600.8M433.7,607.95L437,604.95M433.7,612.1L437,609.1M433.7,616.25L437,613.25M437.85,516.65L441.15,513.65M437.85,520.8L441.15,517.8M437.85,524.95L441.15,521.95M437.85,529.1L441.15,526.1M437.85,533.25L441.15,530.25M437.85,537.4L441.15,534.4M437.85,541.55L441.15,538.55M437.85,545.7L441.15,542.7M437.85,549.85L441.15,546.85M437.85,554L441.15,551M437.85,558.15L441.15,555.15M437.85,562.3L441.15,559.3M437.85,566.45L441.15,563.45M437.85,570.6L441.15,567.6M437.85,574.75L441.15,571.75M437.85,578.9L441.15,575.9M437.85,583.05L441.15,580.05M437.85,587.2L441.15,584.2M437.85,591.35L441.15,588.35M437.85,595.5L441.15,592.5M437.85,599.65L441.15,596.65M437.85,603.8L441.15,600.8M437.85,607.95L441.15,604.95M437.85,612.1L441.15,609.1M437.85,616.25L441.15,613.25M442,516.65L445.3,513.65M442,520.8L445.3,517.8M442,524.95L445.3,521.95M442,529.1L445.3,526.1M442,533.25L445.3,530.25M442,537.4L445.3,534.4M442,541.55L445.3,538.55M442,545.7L445.3,542.7M442,549.85L445.3,546.85M442,554L445.3,551M442,558.15L445.3,555.15M442,562.3L445.3,559.3M442,566.45L445.3,563.45M442,570.6L445.3,567.6M442,574.75L445.3,571.75M442,578.9L445.3,575.9M442,583.05L445.3,580.05M442,587.2L445.3,584.2M442,591.35L445.3,588.35M442,595.5L445.3,592.5M442,599.65L445.3,596.65M442,603.8L445.3,600.8M442,607.95L445.3,604.95M442,612.1L445.3,609.1M442,616.25L445.3,613.25M446.15,516.65L449.45,513.65M446.15,520.8L449.45,517.8M446.15,524.95L449.45,521.95M446.15,529.1L449.45,526.1M446.15,533.25L449.45,530.25M446.15,537.4L449.45,534.4M446.15,541.55L449.45,538.55M446.15,545.7L449.45,542.7M446.15,549.85L449.45,546.85M446.15,554L449.45,551M446.15,558.15L449.45,555.15M446.15,562.3L449.45,559.3M446.15,566.45L449.45,563.45M446.15,570.6L449.45,567.6M446.15,574.75L449.45,571.75M446.15,578.9L449.45,575.9M446.15,583.05L449.45,580.05M446.15,587.2L449.45,584.2M446.15,591.35L449.45,588.35M446.15,595.5L449.45,592.5M446.15,599.65L449.45,596.65M446.15,603.8L449.45,600.8M446.15,607.95L449.45,604.95M446.15,612.1L449.45,609.1M446.15,616.25L449.45,613.25M450.3,516.65L453.6,513.65M450.3,520.8L453.6,517.8M450.3,524.95L453.6,521.95M450.3,529.1L453.6,526.1M450.3,533.25L453.6,530.25M450.3,537.4L453.6,534.4M450.3,541.55L453.6,538.55M450.3,545.7L453.6,542.7M450.3,549.85L453.6,546.85M450.3,554L453.6,551M450.3,558.15L453.6,555.15M450.3,562.3L453.6,559.3M450.3,566.45L453.6,563.45M450.3,570.6L453.6,567.6M450.3,574.75L453.6,571.75M450.3,578.9L453.6,575.9M450.3,583.05L453.6,580.05M450.3,587.2L453.6,584.2M450.3,591.35L453.6,588.35M450.3,595.5L453.6,592.5M450.3,599.65L453.6,596.65M450.3,603.8L453.6,600.8M450.3,607.95L453.6,604.95M450.3,612.1L453.6,609.1M450.3,616.25L453.6,613.25M454.45,516.65L457.75,513.65M454.45,520.8L457.75,517.8M454.45,524.95L457.75,521.95M454.45,529.1L457.75,526.1M454.45,533.25L457.75,530.25M454.45,537.4L457.75,534.4M454.45,541.55L457.75,538.55M454.45,545.7L457.75,542.7M454.45,549.85L457.75,546.85M454.45,554L457.75,551M454.45,558.15L457.75,555.15M454.45,562.3L457.75,559.3M454.45,566.45L457.75,563.45M454.45,570.6L457.75,567.6M454.45,574.75L457.75,571.75M454.45,578.9L457.75,575.9M454.45,583.05L457.75,580.05M454.45,587.2L457.75,584.2M454.45,591.35L457.75,588.35M454.45,595.5L457.75,592.5M454.45,599.65L457.75,596.65M454.45,603.8L457.75,600.8M454.45,607.95L457.75,604.95M454.45,612.1L457.75,609.1M454.45,616.25L457.75,613.25" stroke="#93132d" stroke-width="1.6" fill="none"/></g>
<clipPath id="c10"><rect x="433.2" y="630.4" width="18.6" height="53"/></clipPath>
<g clip-path="url(#c10)"><path d="M429.55,629.95L432.85,626.95M429.55,634.1L432.85,631.1M429.55,638.25L432.85,635.25M429.55,642.4L432.85,639.4M429.55,646.55L432.85,643.55M429.55,650.7L432.85,647.7M429.55,654.85L432.85,651.85M429.55,659L432.85,656M429.55,663.15L432.85,660.15M429.55,667.3L432.85,664.3M429.55,671.45L432.85,668.45M429.55,675.6L432.85,672.6M429.55,679.75L432.85,676.75M429.55,683.9L432.85,680.9M429.55,688.05L432.85,685.05M433.7,629.95L437,626.95M433.7,634.1L437,631.1M433.7,638.25L437,635.25M433.7,642.4L437,639.4M433.7,646.55L437,643.55M433.7,650.7L437,647.7M433.7,654.85L437,651.85M433.7,659L437,656M433.7,663.15L437,660.15M433.7,667.3L437,664.3M433.7,671.45L437,668.45M433.7,675.6L437,672.6M433.7,679.75L437,676.75M433.7,683.9L437,680.9M433.7,688.05L437,685.05M437.85,629.95L441.15,626.95M437.85,634.1L441.15,631.1M437.85,638.25L441.15,635.25M437.85,642.4L441.15,639.4M437.85,646.55L441.15,643.55M437.85,650.7L441.15,647.7M437.85,654.85L441.15,651.85M437.85,659L441.15,656M437.85,663.15L441.15,660.15M437.85,667.3L441.15,664.3M437.85,671.45L441.15,668.45M437.85,675.6L441.15,672.6M437.85,679.75L441.15,676.75M437.85,683.9L441.15,680.9M437.85,688.05L441.15,685.05M442,629.95L445.3,626.95M442,634.1L445.3,631.1M442,638.25L445.3,635.25M442,642.4L445.3,639.4M442,646.55L445.3,643.55M442,650.7L445.3,647.7M442,654.85L445.3,651.85M442,659L445.3,656M442,663.15L445.3,660.15M442,667.3L445.3,664.3M442,671.45L445.3,668.45M442,675.6L445.3,672.6M442,679.75L445.3,676.75M442,683.9L445.3,680.9M442,688.05L445.3,685.05M446.15,629.95L449.45,626.95M446.15,634.1L449.45,631.1M446.15,638.25L449.45,635.25M446.15,642.4L449.45,639.4M446.15,646.55L449.45,643.55M446.15,650.7L449.45,647.7M446.15,654.85L449.45,651.85M446.15,659L449.45,656M446.15,663.15L449.45,660.15M446.15,667.3L449.45,664.3M446.15,671.45L449.45,668.45M446.15,675.6L449.45,672.6M446.15,679.75L449.45,676.75M446.15,683.9L449.45,680.9M446.15,688.05L449.45,685.05M450.3,629.95L453.6,626.95M450.3,634.1L453.6,631.1M450.3,638.25L453.6,635.25M450.3,642.4L453.6,639.4M450.3,646.55L453.6,643.55M450.3,650.7L453.6,647.7M450.3,654.85L453.6,651.85M450.3,659L453.6,656M450.3,663.15L453.6,660.15M450.3,667.3L453.6,664.3M450.3,671.45L453.6,668.45M450.3,675.6L453.6,672.6M450.3,679.75L453.6,676.75M450.3,683.9L453.6,680.9M450.3,688.05L453.6,685.05M454.45,629.95L457.75,626.95M454.45,634.1L457.75,631.1M454.45,638.25L457.75,635.25M454.45,642.4L457.75,639.4M454.45,646.55L457.75,643.55M454.45,650.7L457.75,647.7M454.45,654.85L457.75,651.85M454.45,659L457.75,656M454.45,663.15L457.75,660.15M454.45,667.3L457.75,664.3M454.45,671.45L457.75,668.45M454.45,675.6L457.75,672.6M454.45,679.75L457.75,676.75M454.45,683.9L457.75,680.9M454.45,688.05L457.75,685.05" stroke="#93132d" stroke-width="1.6" fill="none"/></g>
<clipPath id="c11"><rect x="460.2" y="654.9" width="17.6" height="28.4"/></clipPath>
<g clip-path="url(#c11)">
<rect x="460.2" y="654.9" width="17.6" height="28.4" fill="#4c6385"/>
<path d="M457,657.3h2v1.8h-2zM461.2,657.3h2v1.8h-2zM465.4,657.3h2v1.8h-2zM469.6,657.3h2v1.8h-2zM473.8,657.3h2v1.8h-2zM478,657.3h2v1.8h-2zM457,662.8h2v1.8h-2zM461.2,662.8h2v1.8h-2zM465.4,662.8h2v1.8h-2zM469.6,662.8h2v1.8h-2zM473.8,662.8h2v1.8h-2zM478,662.8h2v1.8h-2zM457,668.3h2v1.8h-2zM461.2,668.3h2v1.8h-2zM465.4,668.3h2v1.8h-2zM469.6,668.3h2v1.8h-2zM473.8,668.3h2v1.8h-2zM478,668.3h2v1.8h-2zM457,673.8h2v1.8h-2zM461.2,673.8h2v1.8h-2zM465.4,673.8h2v1.8h-2zM469.6,673.8h2v1.8h-2zM473.8,673.8h2v1.8h-2zM478,673.8h2v1.8h-2zM457,679.3h2v1.8h-2zM461.2,679.3h2v1.8h-2zM465.4,679.3h2v1.8h-2zM469.6,679.3h2v1.8h-2zM473.8,679.3h2v1.8h-2zM478,679.3h2v1.8h-2zM457,684.8h2v1.8h-2zM461.2,684.8h2v1.8h-2zM465.4,684.8h2v1.8h-2zM469.6,684.8h2v1.8h-2zM473.8,684.8h2v1.8h-2zM478,684.8h2v1.8h-2z" fill="#fff"/>
</g>
<clipPath id="c12"><rect x="486.7" y="529.5" width="17.9" height="81.2"/></clipPath>
<g clip-path="url(#c12)">
<rect x="486.7" y="529.5" width="17.9" height="81.2" fill="#9a1836"/>
<path d="M484.52,528.26h1.6v1.4h-1.6zM489.27,528.26h1.6v1.4h-1.6zM494.02,528.26h1.6v1.4h-1.6zM498.77,528.26h1.6v1.4h-1.6zM503.52,528.26h1.6v1.4h-1.6zM508.27,528.26h1.6v1.4h-1.6zM513.03,528.26h1.6v1.4h-1.6zM482.15,530.6h1.6v1.4h-1.6zM486.9,530.6h1.6v1.4h-1.6zM491.65,530.6h1.6v1.4h-1.6zM496.4,530.6h1.6v1.4h-1.6zM501.15,530.6h1.6v1.4h-1.6zM505.9,530.6h1.6v1.4h-1.6zM510.65,530.6h1.6v1.4h-1.6zM484.52,532.94h1.6v1.4h-1.6zM489.27,532.94h1.6v1.4h-1.6zM494.02,532.94h1.6v1.4h-1.6zM498.77,532.94h1.6v1.4h-1.6zM503.52,532.94h1.6v1.4h-1.6zM508.27,532.94h1.6v1.4h-1.6zM513.03,532.94h1.6v1.4h-1.6zM482.15,535.28h1.6v1.4h-1.6zM486.9,535.28h1.6v1.4h-1.6zM491.65,535.28h1.6v1.4h-1.6zM496.4,535.28h1.6v1.4h-1.6zM501.15,535.28h1.6v1.4h-1.6zM505.9,535.28h1.6v1.4h-1.6zM510.65,535.28h1.6v1.4h-1.6zM484.52,537.62h1.6v1.4h-1.6zM489.27,537.62h1.6v1.4h-1.6zM494.02,537.62h1.6v1.4h-1.6zM498.77,537.62h1.6v1.4h-1.6zM503.52,537.62h1.6v1.4h-1.6zM508.27,537.62h1.6v1.4h-1.6zM513.03,537.62h1.6v1.4h-1.6zM482.15,539.96h1.6v1.4h-1.6zM486.9,539.96h1.6v1.4h-1.6zM491.65,539.96h1.6v1.4h-1.6zM496.4,539.96h1.6v1.4h-1.6zM501.15,539.96h1.6v1.4h-1.6zM505.9,539.96h1.6v1.4h-1.6zM510.65,539.96h1.6v1.4h-1.6zM484.52,542.3h1.6v1.4h-1.6zM489.27,542.3h1.6v1.4h-1.6zM494.02,542.3h1.6v1.4h-1.6zM498.77,542.3h1.6v1.4h-1.6zM503.52,542.3h1.6v1.4h-1.6zM508.27,542.3h1.6v1.4h-1.6zM513.03,542.3h1.6v1.4h-1.6zM482.15,544.64h1.6v1.4h-1.6zM486.9,544.64h1.6v1.4h-1.6zM491.65,544.64h1.6v1.4h-1.6zM496.4,544.64h1.6v1.4h-1.6zM501.15,544.64h1.6v1.4h-1.6zM505.9,544.64h1.6v1.4h-1.6zM510.65,544.64h1.6v1.4h-1.6zM484.52,546.98h1.6v1.4h-1.6zM489.27,546.98h1.6v1.4h-1.6zM494.02,546.98h1.6v1.4h-1.6zM498.77,546.98h1.6v1.4h-1.6zM503.52,546.98h1.6v1.4h-1.6zM508.27,546.98h1.6v1.4h-1.6zM513.03,546.98h1.6v1.4h-1.6zM482.15,549.32h1.6v1.4h-1.6zM486.9,549.32h1.6v1.4h-1.6zM491.65,549.32h1.6v1.4h-1.6zM496.4,549.32h1.6v1.4h-1.6zM501.15,549.32h1.6v1.4h-1.6zM505.9,549.32h1.6v1.4h-1.6zM510.65,549.32h1.6v1.4h-1.6zM484.52,551.66h1.6v1.4h-1.6zM489.27,551.66h1.6v1.4h-1.6zM494.02,551.66h1.6v1.4h-1.6zM498.77,551.66h1.6v1.4h-1.6zM503.52,551.66h1.6v1.4h-1.6zM508.27,551.66h1.6v1.4h-1.6zM513.03,551.66h1.6v1.4h-1.6zM482.15,554h1.6v1.4h-1.6zM486.9,554h1.6v1.4h-1.6zM491.65,554h1.6v1.4h-1.6zM496.4,554h1.6v1.4h-1.6zM501.15,554h1.6v1.4h-1.6zM505.9,554h1.6v1.4h-1.6zM510.65,554h1.6v1.4h-1.6zM484.52,556.34h1.6v1.4h-1.6zM489.27,556.34h1.6v1.4h-1.6zM494.02,556.34h1.6v1.4h-1.6zM498.77,556.34h1.6v1.4h-1.6zM503.52,556.34h1.6v1.4h-1.6zM508.27,556.34h1.6v1.4h-1.6zM513.03,556.34h1.6v1.4h-1.6zM482.15,558.68h1.6v1.4h-1.6zM486.9,558.68h1.6v1.4h-1.6zM491.65,558.68h1.6v1.4h-1.6zM496.4,558.68h1.6v1.4h-1.6zM501.15,558.68h1.6v1.4h-1.6zM505.9,558.68h1.6v1.4h-1.6zM510.65,558.68h1.6v1.4h-1.6zM484.52,561.02h1.6v1.4h-1.6zM489.27,561.02h1.6v1.4h-1.6zM494.02,561.02h1.6v1.4h-1.6zM498.77,561.02h1.6v1.4h-1.6zM503.52,561.02h1.6v1.4h-1.6zM508.27,561.02h1.6v1.4h-1.6zM513.03,561.02h1.6v1.4h-1.6zM482.15,563.36h1.6v1.4h-1.6zM486.9,563.36h1.6v1.4h-1.6zM491.65,563.36h1.6v1.4h-1.6zM496.4,563.36h1.6v1.4h-1.6zM501.15,563.36h1.6v1.4h-1.6zM505.9,563.36h1.6v1.4h-1.6zM510.65,563.36h1.6v1.4h-1.6zM484.52,565.7h1.6v1.4h-1.6zM489.27,565.7h1.6v1.4h-1.6zM494.02,565.7h1.6v1.4h-1.6zM498.77,565.7h1.6v1.4h-1.6zM503.52,565.7h1.6v1.4h-1.6zM508.27,565.7h1.6v1.4h-1.6zM513.03,565.7h1.6v1.4h-1.6zM482.15,568.04h1.6v1.4h-1.6zM486.9,568.04h1.6v1.4h-1.6zM491.65,568.04h1.6v1.4h-1.6zM496.4,568.04h1.6v1.4h-1.6zM501.15,568.04h1.6v1.4h-1.6zM505.9,568.04h1.6v1.4h-1.6zM510.65,568.04h1.6v1.4h-1.6zM484.52,570.38h1.6v1.4h-1.6zM489.27,570.38h1.6v1.4h-1.6zM494.02,570.38h1.6v1.4h-1.6zM498.77,570.38h1.6v1.4h-1.6zM503.52,570.38h1.6v1.4h-1.6zM508.27,570.38h1.6v1.4h-1.6zM513.03,570.38h1.6v1.4h-1.6zM482.15,572.72h1.6v1.4h-1.6zM486.9,572.72h1.6v1.4h-1.6zM491.65,572.72h1.6v1.4h-1.6zM496.4,572.72h1.6v1.4h-1.6zM501.15,572.72h1.6v1.4h-1.6zM505.9,572.72h1.6v1.4h-1.6zM510.65,572.72h1.6v1.4h-1.6zM484.52,575.06h1.6v1.4h-1.6zM489.27,575.06h1.6v1.4h-1.6zM494.02,575.06h1.6v1.4h-1.6zM498.77,575.06h1.6v1.4h-1.6zM503.52,575.06h1.6v1.4h-1.6zM508.27,575.06h1.6v1.4h-1.6zM513.03,575.06h1.6v1.4h-1.6zM482.15,577.4h1.6v1.4h-1.6zM486.9,577.4h1.6v1.4h-1.6zM491.65,577.4h1.6v1.4h-1.6zM496.4,577.4h1.6v1.4h-1.6zM501.15,577.4h1.6v1.4h-1.6zM505.9,577.4h1.6v1.4h-1.6zM510.65,577.4h1.6v1.4h-1.6zM484.52,579.74h1.6v1.4h-1.6zM489.27,579.74h1.6v1.4h-1.6zM494.02,579.74h1.6v1.4h-1.6zM498.77,579.74h1.6v1.4h-1.6zM503.52,579.74h1.6v1.4h-1.6zM508.27,579.74h1.6v1.4h-1.6zM513.03,579.74h1.6v1.4h-1.6zM482.15,582.08h1.6v1.4h-1.6zM486.9,582.08h1.6v1.4h-1.6zM491.65,582.08h1.6v1.4h-1.6zM496.4,582.08h1.6v1.4h-1.6zM501.15,582.08h1.6v1.4h-1.6zM505.9,582.08h1.6v1.4h-1.6zM510.65,582.08h1.6v1.4h-1.6zM484.52,584.42h1.6v1.4h-1.6zM489.27,584.42h1.6v1.4h-1.6zM494.02,584.42h1.6v1.4h-1.6zM498.77,584.42h1.6v1.4h-1.6zM503.52,584.42h1.6v1.4h-1.6zM508.27,584.42h1.6v1.4h-1.6zM513.03,584.42h1.6v1.4h-1.6zM482.15,586.76h1.6v1.4h-1.6zM486.9,586.76h1.6v1.4h-1.6zM491.65,586.76h1.6v1.4h-1.6zM496.4,586.76h1.6v1.4h-1.6zM501.15,586.76h1.6v1.4h-1.6zM505.9,586.76h1.6v1.4h-1.6zM510.65,586.76h1.6v1.4h-1.6zM484.52,589.1h1.6v1.4h-1.6zM489.27,589.1h1.6v1.4h-1.6zM494.02,589.1h1.6v1.4h-1.6zM498.77,589.1h1.6v1.4h-1.6zM503.52,589.1h1.6v1.4h-1.6zM508.27,589.1h1.6v1.4h-1.6zM513.03,589.1h1.6v1.4h-1.6zM482.15,591.44h1.6v1.4h-1.6zM486.9,591.44h1.6v1.4h-1.6zM491.65,591.44h1.6v1.4h-1.6zM496.4,591.44h1.6v1.4h-1.6zM501.15,591.44h1.6v1.4h-1.6zM505.9,591.44h1.6v1.4h-1.6zM510.65,591.44h1.6v1.4h-1.6zM484.52,593.78h1.6v1.4h-1.6zM489.27,593.78h1.6v1.4h-1.6zM494.02,593.78h1.6v1.4h-1.6zM498.77,593.78h1.6v1.4h-1.6zM503.52,593.78h1.6v1.4h-1.6zM508.27,593.78h1.6v1.4h-1.6zM513.03,593.78h1.6v1.4h-1.6zM482.15,596.12h1.6v1.4h-1.6zM486.9,596.12h1.6v1.4h-1.6zM491.65,596.12h1.6v1.4h-1.6zM496.4,596.12h1.6v1.4h-1.6zM501.15,596.12h1.6v1.4h-1.6zM505.9,596.12h1.6v1.4h-1.6zM510.65,596.12h1.6v1.4h-1.6zM484.52,598.46h1.6v1.4h-1.6zM489.27,598.46h1.6v1.4h-1.6zM494.02,598.46h1.6v1.4h-1.6zM498.77,598.46h1.6v1.4h-1.6zM503.52,598.46h1.6v1.4h-1.6zM508.27,598.46h1.6v1.4h-1.6zM513.03,598.46h1.6v1.4h-1.6zM482.15,600.8h1.6v1.4h-1.6zM486.9,600.8h1.6v1.4h-1.6zM491.65,600.8h1.6v1.4h-1.6zM496.4,600.8h1.6v1.4h-1.6zM501.15,600.8h1.6v1.4h-1.6zM505.9,600.8h1.6v1.4h-1.6zM510.65,600.8h1.6v1.4h-1.6zM484.52,603.14h1.6v1.4h-1.6zM489.27,603.14h1.6v1.4h-1.6zM494.02,603.14h1.6v1.4h-1.6zM498.77,603.14h1.6v1.4h-1.6zM503.52,603.14h1.6v1.4h-1.6zM508.27,603.14h1.6v1.4h-1.6zM513.03,603.14h1.6v1.4h-1.6zM482.15,605.48h1.6v1.4h-1.6zM486.9,605.48h1.6v1.4h-1.6zM491.65,605.48h1.6v1.4h-1.6zM496.4,605.48h1.6v1.4h-1.6zM501.15,605.48h1.6v1.4h-1.6zM505.9,605.48h1.6v1.4h-1.6zM510.65,605.48h1.6v1.4h-1.6zM484.52,607.82h1.6v1.4h-1.6zM489.27,607.82h1.6v1.4h-1.6zM494.02,607.82h1.6v1.4h-1.6zM498.77,607.82h1.6v1.4h-1.6zM503.52,607.82h1.6v1.4h-1.6zM508.27,607.82h1.6v1.4h-1.6zM513.03,607.82h1.6v1.4h-1.6zM482.15,610.16h1.6v1.4h-1.6zM486.9,610.16h1.6v1.4h-1.6zM491.65,610.16h1.6v1.4h-1.6zM496.4,610.16h1.6v1.4h-1.6zM501.15,610.16h1.6v1.4h-1.6zM505.9,610.16h1.6v1.4h-1.6zM510.65,610.16h1.6v1.4h-1.6z" fill="#fff"/>
</g>
<clipPath id="c13"><rect x="486.7" y="630.2" width="17.9" height="53.2"/></clipPath>
<g clip-path="url(#c13)">
<rect x="486.7" y="630.2" width="17.9" height="53.2" fill="#9a1836"/>
<path d="M482.15,628.88h1.6v1.4h-1.6zM486.9,628.88h1.6v1.4h-1.6zM491.65,628.88h1.6v1.4h-1.6zM496.4,628.88h1.6v1.4h-1.6zM501.15,628.88h1.6v1.4h-1.6zM505.9,628.88h1.6v1.4h-1.6zM510.65,628.88h1.6v1.4h-1.6zM484.52,631.22h1.6v1.4h-1.6zM489.27,631.22h1.6v1.4h-1.6zM494.02,631.22h1.6v1.4h-1.6zM498.77,631.22h1.6v1.4h-1.6zM503.52,631.22h1.6v1.4h-1.6zM508.27,631.22h1.6v1.4h-1.6zM513.03,631.22h1.6v1.4h-1.6zM482.15,633.56h1.6v1.4h-1.6zM486.9,633.56h1.6v1.4h-1.6zM491.65,633.56h1.6v1.4h-1.6zM496.4,633.56h1.6v1.4h-1.6zM501.15,633.56h1.6v1.4h-1.6zM505.9,633.56h1.6v1.4h-1.6zM510.65,633.56h1.6v1.4h-1.6zM484.52,635.9h1.6v1.4h-1.6zM489.27,635.9h1.6v1.4h-1.6zM494.02,635.9h1.6v1.4h-1.6zM498.77,635.9h1.6v1.4h-1.6zM503.52,635.9h1.6v1.4h-1.6zM508.27,635.9h1.6v1.4h-1.6zM513.03,635.9h1.6v1.4h-1.6zM482.15,638.24h1.6v1.4h-1.6zM486.9,638.24h1.6v1.4h-1.6zM491.65,638.24h1.6v1.4h-1.6zM496.4,638.24h1.6v1.4h-1.6zM501.15,638.24h1.6v1.4h-1.6zM505.9,638.24h1.6v1.4h-1.6zM510.65,638.24h1.6v1.4h-1.6zM484.52,640.58h1.6v1.4h-1.6zM489.27,640.58h1.6v1.4h-1.6zM494.02,640.58h1.6v1.4h-1.6zM498.77,640.58h1.6v1.4h-1.6zM503.52,640.58h1.6v1.4h-1.6zM508.27,640.58h1.6v1.4h-1.6zM513.03,640.58h1.6v1.4h-1.6zM482.15,642.92h1.6v1.4h-1.6zM486.9,642.92h1.6v1.4h-1.6zM491.65,642.92h1.6v1.4h-1.6zM496.4,642.92h1.6v1.4h-1.6zM501.15,642.92h1.6v1.4h-1.6zM505.9,642.92h1.6v1.4h-1.6zM510.65,642.92h1.6v1.4h-1.6zM484.52,645.26h1.6v1.4h-1.6zM489.27,645.26h1.6v1.4h-1.6zM494.02,645.26h1.6v1.4h-1.6zM498.77,645.26h1.6v1.4h-1.6zM503.52,645.26h1.6v1.4h-1.6zM508.27,645.26h1.6v1.4h-1.6zM513.03,645.26h1.6v1.4h-1.6zM482.15,647.6h1.6v1.4h-1.6zM486.9,647.6h1.6v1.4h-1.6zM491.65,647.6h1.6v1.4h-1.6zM496.4,647.6h1.6v1.4h-1.6zM501.15,647.6h1.6v1.4h-1.6zM505.9,647.6h1.6v1.4h-1.6zM510.65,647.6h1.6v1.4h-1.6zM484.52,649.94h1.6v1.4h-1.6zM489.27,649.94h1.6v1.4h-1.6zM494.02,649.94h1.6v1.4h-1.6zM498.77,649.94h1.6v1.4h-1.6zM503.52,649.94h1.6v1.4h-1.6zM508.27,649.94h1.6v1.4h-1.6zM513.03,649.94h1.6v1.4h-1.6zM482.15,652.28h1.6v1.4h-1.6zM486.9,652.28h1.6v1.4h-1.6zM491.65,652.28h1.6v1.4h-1.6zM496.4,652.28h1.6v1.4h-1.6zM501.15,652.28h1.6v1.4h-1.6zM505.9,652.28h1.6v1.4h-1.6zM510.65,652.28h1.6v1.4h-1.6zM484.52,654.62h1.6v1.4h-1.6zM489.27,654.62h1.6v1.4h-1.6zM494.02,654.62h1.6v1.4h-1.6zM498.77,654.62h1.6v1.4h-1.6zM503.52,654.62h1.6v1.4h-1.6zM508.27,654.62h1.6v1.4h-1.6zM513.03,654.62h1.6v1.4h-1.6zM482.15,656.96h1.6v1.4h-1.6zM486.9,656.96h1.6v1.4h-1.6zM491.65,656.96h1.6v1.4h-1.6zM496.4,656.96h1.6v1.4h-1.6zM501.15,656.96h1.6v1.4h-1.6zM505.9,656.96h1.6v1.4h-1.6zM510.65,656.96h1.6v1.4h-1.6zM484.52,659.3h1.6v1.4h-1.6zM489.27,659.3h1.6v1.4h-1.6zM494.02,659.3h1.6v1.4h-1.6zM498.77,659.3h1.6v1.4h-1.6zM503.52,659.3h1.6v1.4h-1.6zM508.27,659.3h1.6v1.4h-1.6zM513.03,659.3h1.6v1.4h-1.6zM482.15,661.64h1.6v1.4h-1.6zM486.9,661.64h1.6v1.4h-1.6zM491.65,661.64h1.6v1.4h-1.6zM496.4,661.64h1.6v1.4h-1.6zM501.15,661.64h1.6v1.4h-1.6zM505.9,661.64h1.6v1.4h-1.6zM510.65,661.64h1.6v1.4h-1.6zM484.52,663.98h1.6v1.4h-1.6zM489.27,663.98h1.6v1.4h-1.6zM494.02,663.98h1.6v1.4h-1.6zM498.77,663.98h1.6v1.4h-1.6zM503.52,663.98h1.6v1.4h-1.6zM508.27,663.98h1.6v1.4h-1.6zM513.03,663.98h1.6v1.4h-1.6zM482.15,666.32h1.6v1.4h-1.6zM486.9,666.32h1.6v1.4h-1.6zM491.65,666.32h1.6v1.4h-1.6zM496.4,666.32h1.6v1.4h-1.6zM501.15,666.32h1.6v1.4h-1.6zM505.9,666.32h1.6v1.4h-1.6zM510.65,666.32h1.6v1.4h-1.6zM484.52,668.66h1.6v1.4h-1.6zM489.27,668.66h1.6v1.4h-1.6zM494.02,668.66h1.6v1.4h-1.6zM498.77,668.66h1.6v1.4h-1.6zM503.52,668.66h1.6v1.4h-1.6zM508.27,668.66h1.6v1.4h-1.6zM513.03,668.66h1.6v1.4h-1.6zM482.15,671h1.6v1.4h-1.6zM486.9,671h1.6v1.4h-1.6zM491.65,671h1.6v1.4h-1.6zM496.4,671h1.6v1.4h-1.6zM501.15,671h1.6v1.4h-1.6zM505.9,671h1.6v1.4h-1.6zM510.65,671h1.6v1.4h-1.6zM484.52,673.34h1.6v1.4h-1.6zM489.27,673.34h1.6v1.4h-1.6zM494.02,673.34h1.6v1.4h-1.6zM498.77,673.34h1.6v1.4h-1.6zM503.52,673.34h1.6v1.4h-1.6zM508.27,673.34h1.6v1.4h-1.6zM513.03,673.34h1.6v1.4h-1.6zM482.15,675.68h1.6v1.4h-1.6zM486.9,675.68h1.6v1.4h-1.6zM491.65,675.68h1.6v1.4h-1.6zM496.4,675.68h1.6v1.4h-1.6zM501.15,675.68h1.6v1.4h-1.6zM505.9,675.68h1.6v1.4h-1.6zM510.65,675.68h1.6v1.4h-1.6zM484.52,678.02h1.6v1.4h-1.6zM489.27,678.02h1.6v1.4h-1.6zM494.02,678.02h1.6v1.4h-1.6zM498.77,678.02h1.6v1.4h-1.6zM503.52,678.02h1.6v1.4h-1.6zM508.27,678.02h1.6v1.4h-1.6zM513.03,678.02h1.6v1.4h-1.6zM482.15,680.36h1.6v1.4h-1.6zM486.9,680.36h1.6v1.4h-1.6zM491.65,680.36h1.6v1.4h-1.6zM496.4,680.36h1.6v1.4h-1.6zM501.15,680.36h1.6v1.4h-1.6zM505.9,680.36h1.6v1.4h-1.6zM510.65,680.36h1.6v1.4h-1.6zM484.52,682.7h1.6v1.4h-1.6zM489.27,682.7h1.6v1.4h-1.6zM494.02,682.7h1.6v1.4h-1.6zM498.77,682.7h1.6v1.4h-1.6zM503.52,682.7h1.6v1.4h-1.6zM508.27,682.7h1.6v1.4h-1.6zM513.03,682.7h1.6v1.4h-1.6z" fill="#fff"/>
</g>
<rect x="362.68" y="477.7" width="1.65" height="49.2" fill="#0a0a0a"/>
<rect x="359.2" y="476.88" width="8.8" height="1.65" fill="#0a0a0a"/>
<rect x="390.38" y="662.3" width="1.65" height="6.3" fill="#0a0a0a"/>
<rect x="386.3" y="661.47" width="7.7" height="1.65" fill="#0a0a0a"/>
<rect x="415.18" y="670.5" width="1.65" height="3.1" fill="#0a0a0a"/>
<rect x="411.1" y="669.67" width="9.8" height="1.65" fill="#0a0a0a"/>
<rect x="441.57" y="492.6" width="1.65" height="25" fill="#0a0a0a"/>
<rect x="438.3" y="491.78" width="9.2" height="1.65" fill="#0a0a0a"/>
<rect x="468.28" y="645" width="1.65" height="10.4" fill="#0a0a0a"/>
<rect x="464.4" y="644.17" width="9.4" height="1.65" fill="#0a0a0a"/>
<rect x="494.57" y="509.1" width="1.65" height="20.9" fill="#0a0a0a"/>
<rect x="491.1" y="508.28" width="8.8" height="1.65" fill="#0a0a0a"/>
<rect x="363.1" y="422.8" width="106.8" height="1.4" fill="#0a0a0a"/>
<rect x="363.1" y="422.8" width="1.4" height="6.4" fill="#0a0a0a"/>
<rect x="468.5" y="422.8" width="1.4" height="6.4" fill="#0a0a0a"/>
<rect x="363.1" y="446.2" width="53.4" height="1.4" fill="#0a0a0a"/>
<rect x="363.1" y="446.2" width="1.4" height="6.1" fill="#0a0a0a"/>
<rect x="415.1" y="446.2" width="1.4" height="6.1" fill="#0a0a0a"/>
<rect x="363.1" y="467.8" width="27.1" height="1.4" fill="#0a0a0a"/>
<rect x="363.1" y="467.8" width="1.4" height="5.7" fill="#0a0a0a"/>
<rect x="388.8" y="467.8" width="1.4" height="5.7" fill="#0a0a0a"/>
<path d="M414.00,416.90L418.40,416.90M414.98,414.60L417.42,419.20M417.42,414.60L414.98,419.20" stroke="#333" stroke-width="0.9" fill="none"/>
<path d="M387.80,440.00L392.20,440.00M388.78,437.70L391.22,442.30M391.22,437.70L388.78,442.30" stroke="#333" stroke-width="0.9" fill="none"/>
<path d="M374.00,462.30L378.40,462.30M374.98,460.00L377.42,464.60M377.42,460.00L374.98,464.60" stroke="#333" stroke-width="0.9" fill="none"/>
<text class="r" transform="translate(314.1,631.1) rotate(-90) scale(0.7080,1) translate(-1.29,0)" font-size="15.7" fill="#1a1a1a">R</text>
<text class="r" transform="translate(314.1,622.7) rotate(-90) scale(0.7061,1) translate(-1.29,0)" font-size="15.7" fill="#1a1a1a">B</text>
<text class="r" transform="translate(314.1,614.7) rotate(-90) scale(0.7744,1) translate(-0.8,0)" font-size="15.7" fill="#1a1a1a">C</text>
<text class="r" transform="translate(314.1,602) rotate(-90) scale(1.1378,1) translate(-1,0)" font-size="15" fill="#1a1a1a">i</text>
<text class="r" transform="translate(314.1,597.9) rotate(-90) scale(1.0201,1) translate(-1,0)" font-size="15" fill="#1a1a1a">n</text>
<text class="r" transform="translate(314.1,586) rotate(-90) scale(0.6269,1) translate(-0.42,0)" font-size="15" fill="#1a1a1a">s</text>
<text class="r" transform="translate(314.1,580.4) rotate(-90) scale(0.8240,1) translate(-0.64,0)" font-size="15" fill="#1a1a1a">e</text>
<text class="r" transform="translate(314.1,572.4) rotate(-90) scale(0.9600,1) translate(-1,0)" font-size="15" fill="#1a1a1a">r</text>
<text class="r" transform="translate(314.1,566.6) rotate(-90) scale(0.9102,1) translate(-0.97,0)" font-size="15" fill="#1a1a1a">u</text>
<text class="r" transform="translate(314.1,558.3) rotate(-90) scale(1.0371,1) translate(-1,0)" font-size="15" fill="#1a1a1a">m</text>
<text class="r" transform="translate(313,542) rotate(-90) scale(0.9429,1) translate(-0.89,0)" font-size="14.4" fill="#1a1a1a">(</text>
<path d="M515,0L696,0L696,1409L530,1409L197,1180L197,1010L515,1237Z" transform="translate(314.1,538.18) rotate(-90) scale(0.00575,-0.00767)" fill="#1a1a1a" style="stroke-width:39.1px;stroke:#1a1a1a"/>
<text class="r" transform="translate(314.1,530.3) rotate(-90) scale(0.8394,1) translate(-0.61,0)" font-size="15.7" fill="#1a1a1a">0</text>
<text class="r" transform="translate(309.3,522.1) rotate(-90) scale(1.0403,1) translate(-0.51,0)" font-size="10" fill="#1a1a1a">6</text>
<path d="M314.2,516.7L303.1,510.3" stroke="#1a1a1a" stroke-width="1.05" fill="none"/>
<text class="r" transform="translate(314.1,511.3) rotate(-90) scale(1.1047,1) translate(-0.71,0)" font-size="10.6" fill="#1a1a1a">μ</text>
<text class="r" transform="translate(314.1,503.3) rotate(-90) scale(0.7801,1) translate(-1.29,0)" font-size="15.7" fill="#1a1a1a">L</text>
<text class="r" transform="translate(313,497) rotate(-90) scale(0.7596,1) translate(-0.08,0)" font-size="14.4" fill="#1a1a1a">)</text>
<rect x="403.15" y="662.3" width="1.6" height="3.5" fill="#111"/>
<rect x="403.15" y="771.4" width="1.6" height="3.5" fill="#111"/>
<rect x="403.15" y="670.3" width="1.6" height="5.6" fill="#111"/>
<rect x="403.15" y="680.46" width="1.6" height="5.6" fill="#111"/>
<rect x="403.15" y="690.62" width="1.6" height="5.6" fill="#111"/>
<rect x="403.15" y="700.78" width="1.6" height="5.6" fill="#111"/>
<rect x="403.15" y="710.94" width="1.6" height="5.6" fill="#111"/>
<rect x="403.15" y="721.1" width="1.6" height="5.6" fill="#111"/>
<rect x="403.15" y="731.26" width="1.6" height="5.6" fill="#111"/>
<rect x="403.15" y="741.42" width="1.6" height="5.6" fill="#111"/>
<rect x="403.15" y="751.58" width="1.6" height="5.6" fill="#111"/>
<rect x="403.15" y="761.74" width="1.6" height="5.6" fill="#111"/>
<rect x="427.9" y="662.3" width="1.6" height="3.5" fill="#111"/>
<rect x="427.9" y="771.4" width="1.6" height="3.5" fill="#111"/>
<rect x="427.9" y="670.3" width="1.6" height="5.6" fill="#111"/>
<rect x="427.9" y="680.46" width="1.6" height="5.6" fill="#111"/>
<rect x="427.9" y="690.62" width="1.6" height="5.6" fill="#111"/>
<rect x="427.9" y="700.78" width="1.6" height="5.6" fill="#111"/>
<rect x="427.9" y="710.94" width="1.6" height="5.6" fill="#111"/>
<rect x="427.9" y="721.1" width="1.6" height="5.6" fill="#111"/>
<rect x="427.9" y="731.26" width="1.6" height="5.6" fill="#111"/>
<rect x="427.9" y="741.42" width="1.6" height="5.6" fill="#111"/>
<rect x="427.9" y="751.58" width="1.6" height="5.6" fill="#111"/>
<rect x="427.9" y="761.74" width="1.6" height="5.6" fill="#111"/>
<rect x="403.15" y="662.3" width="3.45" height="1.6" fill="#111"/>
<rect x="412.85" y="662.3" width="7.05" height="1.6" fill="#111"/>
<rect x="425.8" y="662.3" width="3.7" height="1.6" fill="#111"/>
<rect x="403.15" y="773.4" width="3.45" height="1.6" fill="#111"/>
<rect x="412.85" y="773.4" width="7.05" height="1.6" fill="#111"/>
<rect x="425.8" y="773.4" width="3.7" height="1.6" fill="#111"/>
<text class="h" transform="translate(355.73,713.8) scale(0.8900,1)" font-size="13.08" fill="#1a1a1a">AA</text>
<text class="h" transform="translate(381.58,713.8) scale(0.7700,1)" font-size="13.08" fill="#1a1a1a">SS</text>
<text class="h" transform="translate(408.73,713.8) scale(0.8900,1)" font-size="13.08" fill="#1a1a1a">AA</text>
<text class="h" transform="translate(435.23,713.8) scale(0.8900,1)" font-size="13.08" fill="#1a1a1a">AA</text>
<text class="h" transform="translate(462.48,713.8) scale(0.7700,1)" font-size="13.08" fill="#1a1a1a">SS</text>
<text class="h" transform="translate(488.68,713.8) scale(0.7700,1)" font-size="13.08" fill="#1a1a1a">SS</text>
<text class="h" transform="translate(355.73,738.4) scale(0.8900,1)" font-size="13.08" fill="#1a1a1a">AA</text>
<text class="h" transform="translate(381.58,738.4) scale(0.7700,1)" font-size="13.08" fill="#1a1a1a">SS</text>
<text class="h" transform="translate(408.73,738.4) scale(0.8900,1)" font-size="13.08" fill="#1a1a1a">AA</text>
<text class="h" transform="translate(436.28,738.4) scale(0.7700,1)" font-size="13.08" fill="#1a1a1a">SS</text>
<text class="h" transform="translate(461.43,738.4) scale(0.8900,1)" font-size="13.08" fill="#1a1a1a">AA</text>
<text class="h" transform="translate(488.68,738.4) scale(0.7700,1)" font-size="13.08" fill="#1a1a1a">SS</text>
<text class="h" transform="translate(355.73,766.1) scale(0.8900,1)" font-size="13.08" fill="#1a1a1a">AA</text>
<text class="h" transform="translate(381.58,766.1) scale(0.7700,1)" font-size="13.08" fill="#1a1a1a">SS</text>
<text class="h" transform="translate(409.78,766.1) scale(0.7700,1)" font-size="13.08" fill="#1a1a1a">SS</text>
<text class="h" transform="translate(435.23,766.1) scale(0.8900,1)" font-size="13.08" fill="#1a1a1a">AA</text>
<text class="h" transform="translate(462.48,766.1) scale(0.7700,1)" font-size="13.08" fill="#1a1a1a">SS</text>
<text class="h" transform="translate(487.63,766.1) scale(0.8900,1)" font-size="13.08" fill="#1a1a1a">AA</text>
<text class="h" transform="translate(319.82,713.8) scale(0.8718,1)" font-size="12.35" fill="#1a1a1a">PPP</text>
<text class="h" transform="translate(322.16,738.4) scale(0.8141,1)" font-size="12.65" fill="#1a1a1a">PLT</text>
<text class="h" transform="translate(313.43,766.1) scale(0.8420,1)" font-size="12.65" fill="#1a1a1a">PFCF</text>
</svg></body></html>
